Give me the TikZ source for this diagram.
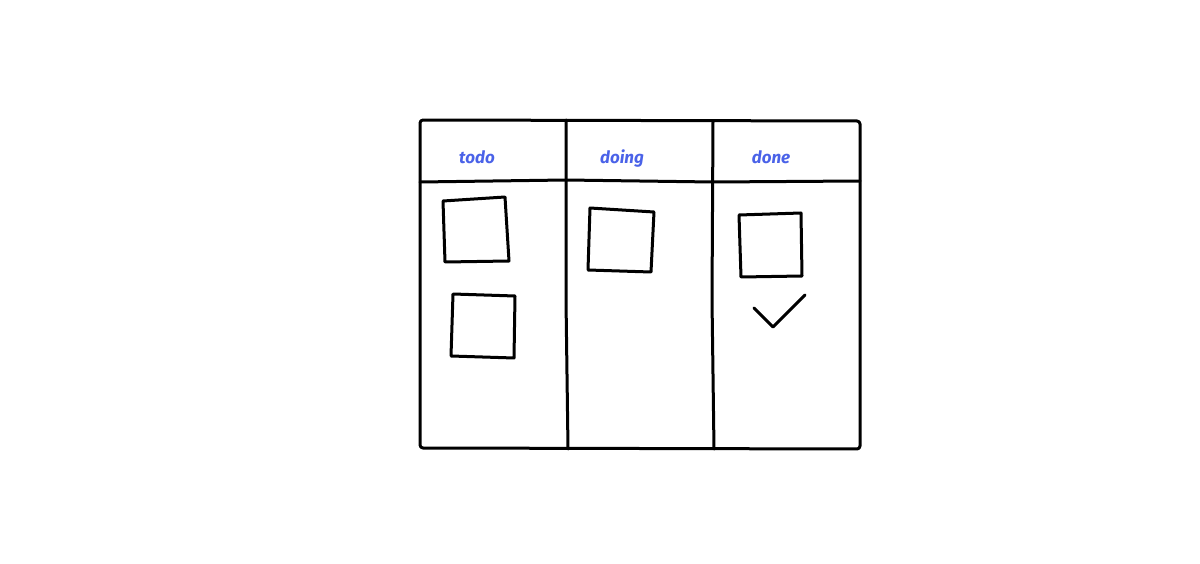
\documentclass[tikz,border=0pt]{standalone}
\usepackage{fontspec}
\setmainfont{Fira Sans}
\definecolor{lblue}{HTML}{4A62E8}
\begin{document}
\begin{tikzpicture}[x=1pt,y=-1pt,
  ink/.style={draw=black,line width=3pt,line join=round,line cap=round},
  lbl/.style={text=lblue,font=\bfseries\itshape\fontsize{17}{20}\selectfont,inner sep=0pt,anchor=base}]
\useasboundingbox (0,0) rectangle (1200,564);
% board
\coordinate (b1) at (420,120);
\coordinate (b2) at (860,121);
\coordinate (b3) at (860,449);
\coordinate (b4) at (420,448);
\draw[ink,rounded corners=3pt] (b1) -- (b2) -- (b3) -- (b4) -- cycle;
% header line
\coordinate (h1) at (420,182);
\coordinate (h2) at (860,181);
\draw[ink] (h1) -- (566,180) -- (713,182) -- (h2);
% column dividers
\coordinate (c1t) at (566,120);
\coordinate (c1b) at (568,449);
\coordinate (c2t) at (713,121);
\coordinate (c2b) at (714,449);
\draw[ink] (c1t) -- (566,300) -- (c1b);
\draw[ink] (c2t) -- (712,300) -- (c2b);
% labels
\node[lbl] (todo) at (477,164) {todo};
\node[lbl] (doing) at (622,164) {doing};
\node[lbl] (done) at (771,164) {done};
% notes
\draw[ink] (443,201) -- (505,197) -- (509,261) -- (445,262) -- cycle;
\draw[ink] (453,294) -- (515,296) -- (514,358) -- (451,356) -- cycle;
\draw[ink] (590,208) -- (654,212) -- (651,272) -- (588,270) -- cycle;
\draw[ink] (739,215) -- (801,213) -- (802,276) -- (741,277) -- cycle;
% check mark
\draw[ink] (754,308) -- (773,327) -- (805,295);
\end{tikzpicture}
\end{document}
